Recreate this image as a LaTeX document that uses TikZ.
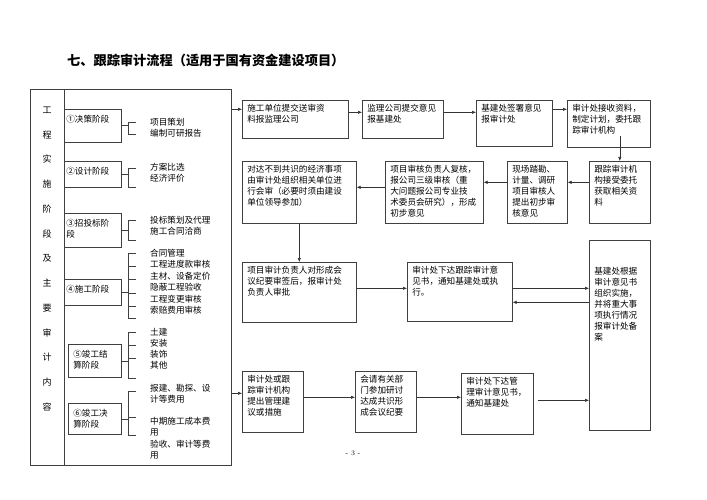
\documentclass[tikz,border=0pt]{standalone}
\usepackage{fontspec}
\newfontfamily\cjk{Noto Sans CJK SC}
\usetikzlibrary{arrows.meta}

\begin{document}
\begin{tikzpicture}[x=1pt, y=-1pt,
    box/.style={draw=black!75, line width=0.6pt, anchor=north west, align=left, inner xsep=5pt, inner ysep=4pt, text height=7pt, font=\cjk\fontsize{8.6}{11}\selectfont},
    stage/.style={box, inner xsep=2pt, text height=9pt},
    item/.style={anchor=base west, align=left, text width=85pt, inner sep=0pt, font=\cjk\fontsize{8.6}{11}\selectfont},
    arr/.style={draw=black!80, line width=0.6pt, -{Latex[length=4pt,width=3.5pt]}},
    brk/.style={draw=black!75, line width=0.6pt}
  ]
  \useasboundingbox (0,0) rectangle (707,500);

  \node[anchor=west, inner sep=0pt, font=\cjk\bfseries\fontsize{13.2}{14}\selectfont] (title) at (67,60) {七、跟踪审计流程（适用于国有资金建设项目）};

  \node[draw=black!75, line width=0.6pt, anchor=north west, minimum width=201pt, minimum height=376pt, inner sep=0pt] (panel) at (30,89) {};
  \draw[brk] ([xshift=34pt]panel.north west) -- ([xshift=34pt]panel.south west);

  \foreach \c [count=\i] in {工,程,实,施,阶,段,及,主,要,审,计,内,容}
    \node[font=\cjk\fontsize{9}{9}\selectfont] (col-\i) at (47,{110+24.75*(\i-1)}) {\c};

  \node[stage, text width=53pt, text depth=16pt] (S1) at (64,109) {①决策阶段};
  \node[stage, text width=53pt, text depth=9pt] (S2) at (64,161) {②设计阶段};
  \node[stage, text width=53pt, text depth=17pt] (S3) at (64,213) {③招投标阶\\段};
  \node[stage, text width=53pt, text depth=9pt] (S4) at (64,279) {④施工阶段};
  \node[stage, inner xsep=5pt, text width=43pt, text depth=16pt] (S5) at (68,344) {⑤竣工结\\算阶段};
  \node[stage, inner xsep=5pt, text width=43pt, text depth=14pt] (S6) at (68,403) {⑥竣工决\\算阶段};

  \foreach \s/\a/\b/\ticks in {S1/122/134/{122,134}, S2/168/187/{168,187}, S3/220/240/{220,240},
      S4/253/318/{253,266,279,293,306,318}, S5/332/378/{332,345,358,378}, S6/391/435/{391,417,435}} {
      \draw[brk] (\s.east) -- ++(7,0);
      \draw[brk] (128,\a) -- (128,\b);
      \foreach \t in \ticks
        \draw[brk] (128,\t) -- (136,\t);
    }

  \node[item] (I1) at (150,126) {项目策划\\编制可研报告};
  \node[item] (I2) at (150,171) {方案比选\\经济评价};
  \node[item] (I3) at (150,223) {投标策划及代理\\施工合同洽商};
  \node[item, font=\cjk\fontsize{8.6}{11.5}\selectfont] (I4) at (150,256) {合同管理\\工程进度款审核\\主材、设备定价\\隐蔽工程验收\\工程变更审核\\索赔费用审核};
  \node[item, font=\cjk\fontsize{8.6}{11.3}\selectfont] (I5) at (150,335) {土建\\安装\\装饰\\其他};
  \node[item] (I6a) at (150,391) {报建、勘探、设\\计等费用};
  \node[item] (I6b) at (150,424) {中期施工成本费\\用};
  \node[item] (I6c) at (150,447) {验收、审计等费\\用};

  \node[box, text width=96pt, text depth=23pt] (B1) at (242,100) {施工单位提交送审资\\料报监理公司};
  \node[box, text width=71pt, text depth=23pt] (B2) at (362,100) {监理公司提交意见\\报基建处};
  \node[box, text width=66pt, text depth=31pt] (B3) at (476,100) {基建处签署意见\\报审计处};
  \node[box, text width=73pt, text depth=32pt] (B4) at (567,100) {审计处接收资料，\\制定计划，委托跟\\踪审计机构};

  \node[box, text width=51pt, text depth=47pt] (B5) at (589,161) {跟踪审计机\\构接受委托\\获取相关资\\料};
  \node[box, text width=50pt, text depth=47pt] (B6) at (507,161) {现场踏勘、\\计量、调研\\项目审核人\\提出初步审\\核意见};
  \node[box, text width=88pt, text depth=47pt] (B7) at (385,161) {项目审核负责人复核，\\报公司三级审核（重\\大问题报公司专业技\\术委员会研究），形成\\初步意见};
  \node[box, text width=104pt, text depth=47pt] (B8) at (242,161) {对达不到共识的经济事项\\由审计处组织相关单位进\\行会审（必要时须由建设\\单位领导参加）};

  \node[box, text width=104pt, text depth=45pt] (C1) at (242,262) {项目审计负责人对形成会\\议纪要审签后，报审计处\\负责人审批};
  \node[box, text width=95pt, text depth=44pt] (C2) at (407,262) {审计处下达跟踪审计意\\见书，通知基建处或执\\行。};
  \node[box, text width=51pt, text height=30pt, text depth=152pt] (C3) at (589,240) {基建处根据\\审计意见书\\组织实施，\\并将重大事\\项执行情况\\报审计处备\\案};

  \node[box, text width=51pt, text depth=46pt] (D1) at (242,371) {审计处或跟\\踪审计机构\\提出管理建\\议或措施};
  \node[box, text width=51pt, text depth=46pt] (D2) at (355,371) {会请有关部\\门参加研讨\\达成共识形\\成会议纪要};
  \node[box, text width=62pt, text depth=46pt] (D3) at (461,373) {审计处下达管\\理审计意见书，\\通知基建处};

  \node[font=\fontsize{7}{7}\selectfont] (page) at (353,453) {- 3 -};

  \draw[arr] ([yshift=10pt]B1.west -| panel.east) -- ([yshift=10pt]B1.west);
  \draw[arr] ([yshift=7pt]B1.east) -- ([yshift=7pt]B1.east -| B2.west);
  \draw[arr] ([yshift=7pt]B2.east) -- ([yshift=7pt]B2.east -| B3.west);
  \draw[arr] ([yshift=14pt]B3.east) -- ([yshift=14pt]B3.east -| B4.west);
  \draw[arr] ([yshift=12pt]B4.south -| B5.north) -- (B5.north);
  \draw[arr] ([yshift=10pt]B5.west) -- ([yshift=10pt]B5.west -| B6.east);
  \draw[arr] ([yshift=10pt]B6.west) -- ([yshift=10pt]B6.west -| B7.east);
  \draw[arr] ([yshift=5pt]B7.west) -- ([yshift=5pt]B7.west -| B8.east);
  \draw[arr] (B8.south) -- (C1.north);
  \draw[arr] ([yshift=4pt]C1.east) -- ([yshift=4pt]C1.east -| C2.west);
  \draw[arr] ([yshift=3.5pt]C2.east) -- ([yshift=3.5pt]C2.east -| C3.west);
  \draw[arr] ([yshift=-10.5pt]C2.east -| C3.west) -- ([yshift=-10.5pt]C2.east);
  \draw[arr] ([yshift=8.5pt]D1.west -| panel.east) -- ([yshift=8.5pt]D1.west);
  \draw[arr] ([yshift=4.5pt]D1.east) -- ([yshift=4.5pt]D1.east -| D2.west);
  \draw[arr] ([yshift=4.5pt]D2.east) -- ([yshift=4.5pt]D2.east -| D3.west);
  \draw[arr] ([xshift=4pt,yshift=3.5pt]D3.east) -- ([yshift=3.5pt]D3.east -| C3.west);

\end{tikzpicture}
\end{document}
